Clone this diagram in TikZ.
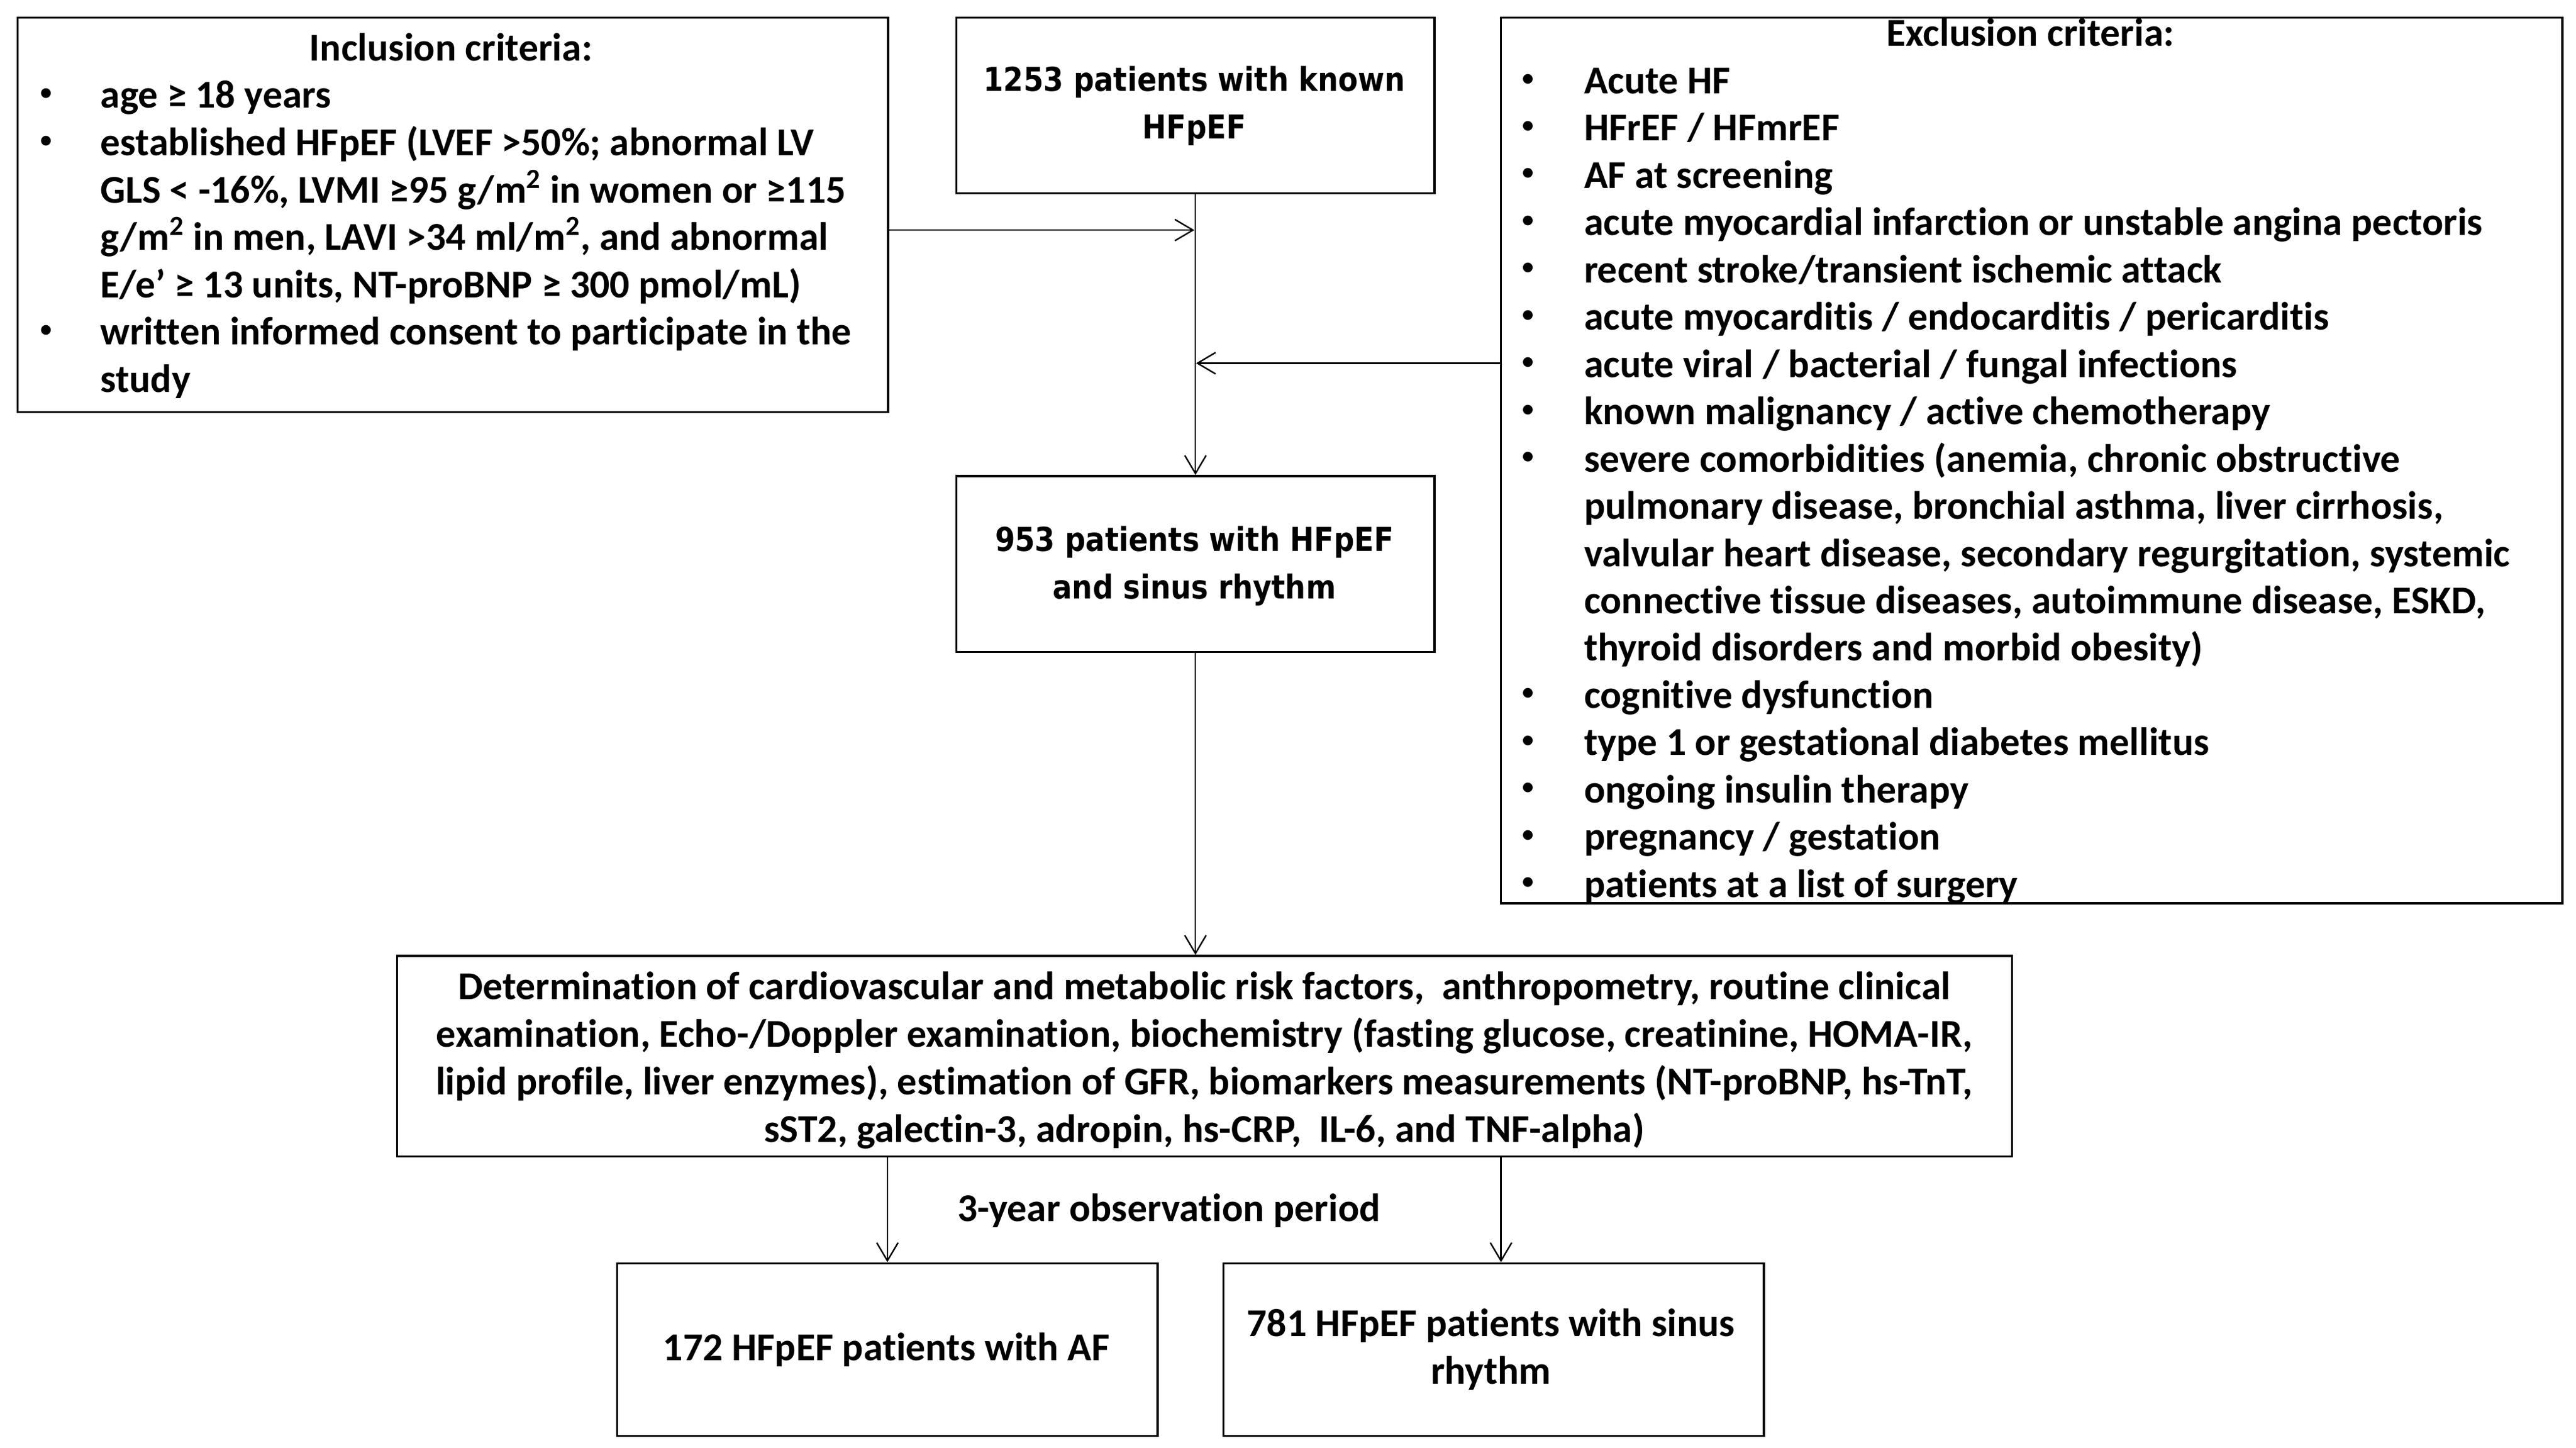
\documentclass[tikz,border=0pt]{standalone}
\usepackage{fontspec}
\setmainfont{Carlito}[Ligatures=NoCommon]
\newfontfamily\vfont{DejaVu Sans}[FakeStretch=0.875]
\usetikzlibrary{arrows.meta}
\begin{document}
\begin{tikzpicture}[x=1pt,y=-1pt,
  box/.style={draw, line width=1.3pt, inner sep=0pt, anchor=north west},
  it/.style={anchor=base west, inner sep=0pt, font=\fontsize{24}{28}\selectfont\bfseries},
  ct/.style={anchor=base, inner sep=0pt, font=\fontsize{24}{28}\selectfont\bfseries},
  vt/.style={anchor=base, inner sep=0pt, font=\vfont\fontsize{20}{24}\selectfont\bfseries},
  bul/.style={anchor=center, inner sep=0pt, font=\fontsize{14}{14}\selectfont\bfseries},
  conn/.style={line width=0.9pt, -{Straight Barb[length=11pt,width=13pt]}}
]
\fill[white] (0,0) rectangle (1568,881);
\useasboundingbox (0,0) rectangle (1568,881);

% boxes
\node[box, minimum width=530pt, minimum height=240pt] (inc) at (10,10) {};
\node[box, minimum width=291pt, minimum height=107pt] (top) at (581.5,10) {};
\node[box, minimum width=646pt, minimum height=539pt] (exc) at (913,10) {};
\node[box, minimum width=291pt, minimum height=107pt] (mid) at (581.5,289) {};
\node[box, minimum width=983pt, minimum height=122pt] (det) at (241,581) {};
\node[box, minimum width=329pt, minimum height=105pt] (af) at (375,768) {};
\node[box, minimum width=329pt, minimum height=105pt] (sr) at (744,768) {};

% inclusion text
\node[ct] (i0) at (274.5,37) {Inclusion criteria:};
\node[bul] (ib1) at (28,57.3) {•};
\node[it] (i1) at (61,65.8) {age ≥ 18 years};
\node[bul] (ib2) at (28,86.1) {•};
\node[it] (i2) at (61,94.6) {established HFpEF (LVEF >50\%; abnormal LV};
\node[it] (i3) at (61,123.4) {GLS < -16\%, LVMI ≥95 g/m\textsuperscript{2} in women or ≥115};
\node[it] (i4) at (61,152.2) {g/m\textsuperscript{2} in men, LAVI >34 ml/m\textsuperscript{2}, and abnormal};
\node[it] (i5) at (61,181) {E/e’ ≥ 13 units, NT-proBNP ≥ 300 pmol/mL)};
\node[bul] (ib6) at (28,201.3) {•};
\node[it] (i6) at (61,209.8) {written informed consent to participate in the};
\node[it] (i7) at (61,238.6) {study};

% top / mid text
\node[vt] (t1) at (727,55.5) {1253 patients with known};
\node[vt] (t2) at (727,84.5) {HFpEF};
\node[vt] (m1) at (727,335.5) {953 patients with HFpEF};
\node[vt] (m2) at (727,364.5) {and sinus rhythm};

% exclusion text
\node[ct] (e0) at (1236,28) {Exclusion criteria:};
\foreach [count=\k from 0] \txt/\b in {
  {Acute HF}/1,
  {HFrEF / HFmrEF}/1,
  {AF at screening}/1,
  {acute myocardial infarction or unstable angina pectoris}/1,
  {recent stroke/transient ischemic attack}/1,
  {acute myocarditis / endocarditis / pericarditis}/1,
  {acute viral / bacterial / fungal infections}/1,
  {known malignancy / active chemotherapy}/1,
  {severe comorbidities (anemia, chronic obstructive}/1,
  {pulmonary disease, bronchial asthma, liver cirrhosis,}/0,
  {valvular heart disease, secondary regurgitation, systemic}/0,
  {connective tissue diseases, autoimmune disease, ESKD,}/0,
  {thyroid disorders and morbid obesity)}/0,
  {cognitive dysfunction}/1,
  {type 1 or gestational diabetes mellitus}/1,
  {ongoing insulin therapy}/1,
  {pregnancy / gestation}/1,
  {patients at a list of surgery}/1}{
  \node[it] (e\k) at (964,57+28.76*\k) {\txt};
  \ifnum\b=1 \node[bul] (eb\k) at (930,48.5+28.76*\k) {•};\fi
}

% determination text
\node[ct] (d1) at (733,608) {Determination of cardiovascular and metabolic risk factors,\ \ anthropometry, routine clinical};
\node[ct] (d2) at (733,637) {examination, Echo-/Doppler examination, biochemistry (fasting glucose, creatinine, HOMA-IR,};
\node[ct] (d3) at (733,666) {lipid profile, liver enzymes), estimation of GFR, biomarkers measurements (NT-proBNP, hs-TnT,};
\node[ct] (d4) at (733,695) {sST2, galectin-3, adropin, hs-CRP,\ \ IL-6, and TNF-alpha)};

\node[ct] (obs) at (711.5,743) {3-year observation period};

\node[ct] (a1) at (539.5,828) {172 HFpEF patients with AF};
\node[ct] (s1) at (907.5,813) {781 HFpEF patients with sinus};
\node[ct] (s2) at (907.5,842) {rhythm};

% connectors
\coordinate (ja) at (727,140);
\coordinate (jb) at (728,221);
\draw[conn] (top.south) -- (mid.north);
\draw[conn] (inc.east |- ja) -- (ja);
\draw[conn] (exc.west |- jb) -- (jb);
\draw[conn] (mid.south) -- (mid.south |- det.north);
\draw[conn] (af.north |- det.south) -- (af.north);
\draw[conn] ([xshift=4.5pt]sr.north |- det.south) -- ([xshift=4.5pt]sr.north);
\end{tikzpicture}
\end{document}
